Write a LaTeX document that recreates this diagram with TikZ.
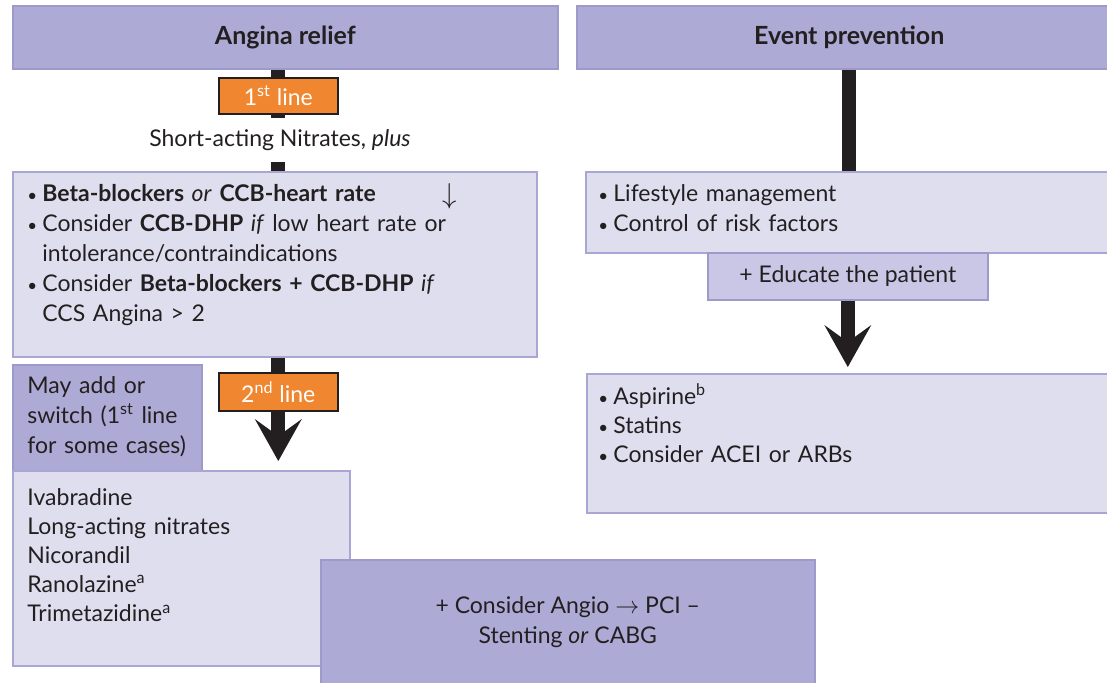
\documentclass[tikz,border=0pt]{standalone}
\usepackage{fontspec}
\setmainfont{Lato}
\usepackage{xcolor}
\usepackage{tikz}
\usetikzlibrary{arrows.meta,positioning,backgrounds,calc}
\definecolor{clrHead}{HTML}{ADAAD5}
\definecolor{clrHeadDraw}{HTML}{9D9ACB}
\definecolor{clrLight}{HTML}{DFDEEF}
\definecolor{clrLightDraw}{HTML}{A9A6D3}
\definecolor{clrEdu}{HTML}{C9C7E5}
\definecolor{clrLine}{HTML}{F08730}
\definecolor{clrInk}{HTML}{231F20}
\newcommand{\bul}{\makebox[7.5pt][l]{\fontsize{8.5}{8.5}\selectfont•}}
\newcommand{\ind}{\hspace*{7.5pt}}
\tikzset{
  hdrbox/.style={rectangle, draw=clrHeadDraw, fill=clrHead, line width=0.8pt,
    anchor=north west, inner sep=0pt, align=center, text=clrInk,
    font=\fontsize{12.5}{15}\selectfont\bfseries},
  litebox/.style={rectangle, draw=clrLightDraw, fill=clrLight, line width=0.8pt,
    anchor=north west, inner sep=0pt},
  linebox/.style={rectangle, draw=clrInk, fill=clrLine, line width=0.8pt,
    anchor=north west, inner sep=0pt, minimum width=59.5pt,
    text=white, font=\fontsize{11.5}{14}\selectfont},
  txt/.style={anchor=base west, align=left, inner sep=0pt, text=clrInk,
    text width=250pt, font=\fontsize{11.5}{15}\selectfont},
  bar/.style={line width=7pt, clrInk},
  bigarrow/.style={bar, -{Stealth[length=21pt, width=23.5pt, inset=8.5pt, line width=0pt]}},
}

\begin{document}
\begin{tikzpicture}[x=0.5pt, y=-0.5pt,
  midbox/.style={hdrbox, font=\fontsize{11.5}{15}\selectfont},
]
\useasboundingbox (0,0) rectangle (1107,682);

% ── headers ────────────────────────────────────────────────────────────────
\node[hdrbox, minimum width=272.5pt, minimum height=31.5pt] (h1) at (12,5) {Angina relief};
\node[hdrbox, minimum width=272.5pt, minimum height=31.5pt] (h2) at (576,5) {Event prevention};

% ── angina relief: first line ──────────────────────────────────────────────
\node[linebox, minimum height=18pt] (line1) at (218,77) {1\textsuperscript{st} line};
\node[txt, anchor=center, text width=, align=center, fill=white,
  minimum height=22pt] (nitr) at (280,140) {Short-acting Nitrates, \textit{plus}};
\node[litebox, minimum width=262pt, minimum height=92.5pt] (b1) at (12,171) {};
\node[txt] (t1) at (27,201)
  {\bul\textbf{Beta-blockers} \textit{or} \textbf{CCB-heart rate}\\
   \bul Consider \textbf{CCB-DHP} \textit{if} low heart rate or\\
   \ind intolerance/contraindications\\
   \bul Consider \textbf{Beta-blockers + CCB-DHP} \textit{if}\\
   \ind CCS Angina > 2};
\node[txt, anchor=base, text width=, font=\fontsize{15}{15}\selectfont] (dn) at (450,203) {$\downarrow$};

% ── angina relief: second line ─────────────────────────────────────────────
\node[linebox, minimum height=19pt] (line2) at (218,372) {2\textsuperscript{nd} line};
\node[hdrbox, minimum width=94.5pt, minimum height=53pt] (l2) at (12,364) {};
\node[txt] (t2) at (27,393)
  {May add or\\switch (1\textsuperscript{st} line\\for some cases)};
\node[litebox, minimum width=168.5pt, minimum height=97.5pt] (l3) at (12,470) {};
\node[txt, font=\fontsize{11.5}{14.6}\selectfont] (t3) at (27,505)
  {Ivabradine\\Long-acting nitrates\\Nicorandil\\Ranolazine\textsuperscript{a}\\
   Trimetazidine\textsuperscript{a}};
\node[midbox, minimum width=247pt, minimum height=62pt] (angio) at (320,559)
  {+ Consider Angio $\rightarrow$ PCI –\\Stenting \textit{or} CABG};

% ── event prevention ───────────────────────────────────────────────────────
\node[litebox, minimum width=265pt, minimum height=40.5pt] (r1) at (585,171) {};
\node[txt] (t4) at (598,201)
  {\bul Lifestyle management\\\bul Control of risk factors};
\node[midbox, fill=clrEdu, minimum width=140pt, minimum height=23.5pt] (edu) at (707,252)
  {+ Educate the patient};
\node[litebox, minimum width=265pt, minimum height=69.5pt] (r2) at (586,373) {};
\node[txt, font=\fontsize{11.5}{14.5}\selectfont] (t5) at (598,404)
  {\bul Aspirine\textsuperscript{b}\\\bul Statins\\\bul Consider ACEI or ARBs};

% ── connectors ─────────────────────────────────────────────────────────────
\begin{scope}[on background layer]
\draw[bar] (line1.center |- h1.south) -- (line1.center |- b1.north);
\draw[bigarrow, shorten >=4.5pt] (line2.center |- b1.south) -- (line2.center |- l3.north);
\draw[bar] (h2.south) -- (h2.south |- r1.north);
\draw[bigarrow, shorten >=3pt] (edu.south) -- (edu.south |- r2.north);
\end{scope}

\end{tikzpicture}
\end{document}
